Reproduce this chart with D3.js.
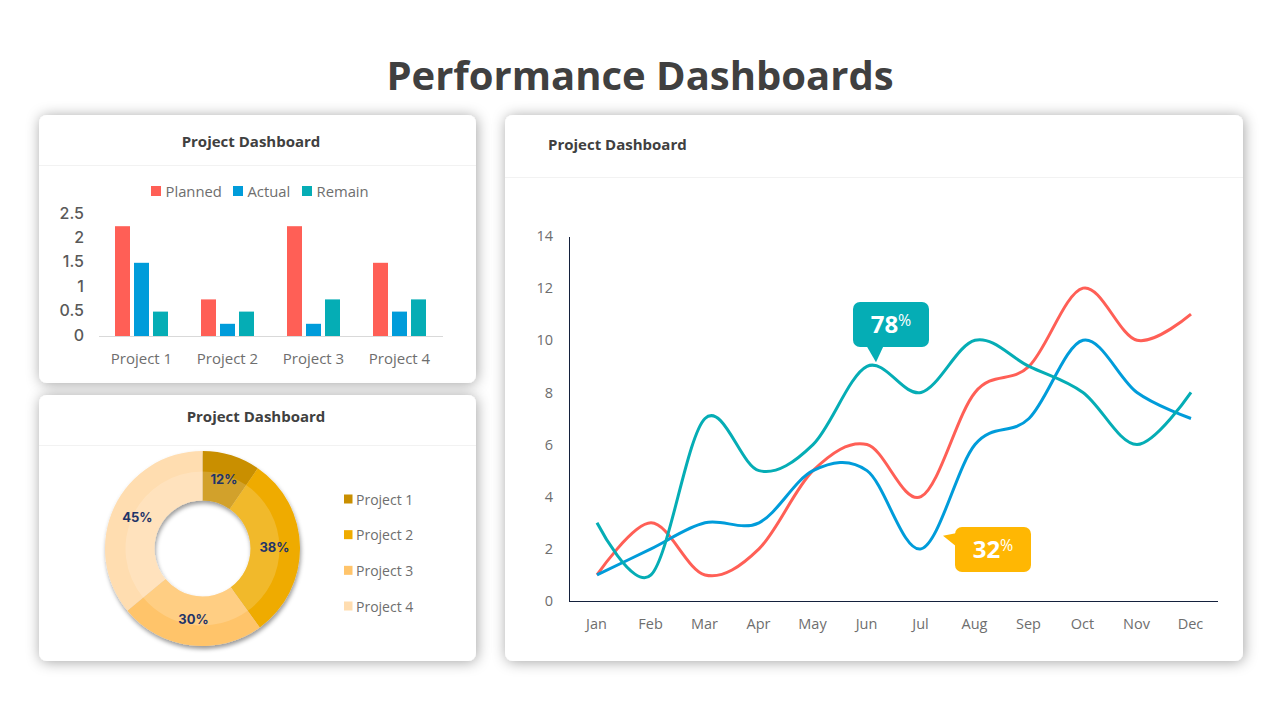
<!DOCTYPE html>
<html>
<head>
<meta charset="utf-8">
<script src="https://cdnjs.cloudflare.com/ajax/libs/d3/7.8.5/d3.min.js"></script>
<style>
  html, body { margin: 0; padding: 0; background: #fff; }
  svg { display: block; font-family: "Open Sans", sans-serif; }
  .axis path, .axis line { shape-rendering: crispEdges; }
</style>
</head>
<body>
<svg id="chart" width="1280" height="720"></svg>
<script>
const titleText = 'Performance Dashboards'
const panelTitle = 'Project Dashboard'

// bar chart
const projects = ['Project 1', 'Project 2', 'Project 3', 'Project 4']
const barSeries = ['Planned', 'Actual', 'Remain']
const planned = [2.25, 0.75, 2.25, 1.5]
const actual = [1.5, 0.25, 0.25, 0.5]
const remain = [0.5, 0.5, 0.75, 0.75]
const barTicks = [0, 0.5, 1, 1.5, 2, 2.5]

// donut
const donutValues = [12, 38, 30, 45]
const donutLabels = ['12%', '38%', '30%', '45%']

// lines
const months = ['Jan', 'Feb', 'Mar', 'Apr', 'May', 'Jun', 'Jul', 'Aug', 'Sep', 'Oct', 'Nov', 'Dec']
const redLine = [1, 3, 1, 2, 5, 6, 4, 8, 9, 12, 10, 11]
const blueLine = [1, 2, 3, 3, 5, 5, 2, 6, 7, 10, 8, 7]
const tealLine = [3, 1, 7, 5, 6, 9, 8, 10, 9, 8, 6, 8]
const lineTicks = [0, 2, 4, 6, 8, 10, 12, 14]

const red = '#ff5f56', blue = '#009cda', teal = '#05adb5', gold = '#ffb703'
const donutColors = ['#c98f00', '#efab00', '#ffc46b', '#ffddb0']
const textGrey = '#6e6e6e'
const axisDark = '#14213d'

const svg = d3.select('#chart')
const defs = svg.append('defs')

let cardShadow = defs.append('filter').attr('id', 'cardShadow')
  .attr('x', '-10%').attr('y', '-10%').attr('width', '120%').attr('height', '120%')
cardShadow.append('feDropShadow').attr('dx', 1).attr('dy', 1)
  .attr('stdDeviation', 7).attr('flood-color', '#000').attr('flood-opacity', 0.36)

let ringShadow = defs.append('filter').attr('id', 'ringShadow')
  .attr('x', '-15%').attr('y', '-15%').attr('width', '130%').attr('height', '130%')
ringShadow.append('feDropShadow').attr('dx', 1).attr('dy', 3)
  .attr('stdDeviation', 2).attr('flood-color', '#000').attr('flood-opacity', 0.4)

svg.append('text').text(titleText)
  .attr('x', 640).attr('y', 90).attr('text-anchor', 'middle')
  .style('font-size', '40px').style('font-weight', 700).style('fill', '#404040')

function card(x, y, w, h, sepY, titleX, titleY, anchor) {
  svg.append('rect').attr('x', x).attr('y', y).attr('width', w).attr('height', h)
    .attr('rx', 8).style('fill', '#fff').attr('filter', 'url(#cardShadow)')
  svg.append('line').attr('x1', x).attr('x2', x + w).attr('y1', sepY).attr('y2', sepY)
    .style('stroke', '#f2f2f2').style('stroke-width', 1)
  svg.append('text').text(panelTitle).attr('x', titleX).attr('y', titleY)
    .attr('text-anchor', anchor)
    .style('font-size', '15px').style('font-weight', 700).style('fill', '#404040')
}

card(39, 115, 437, 268, 165.5, 251, 147, 'middle')
card(39, 395, 437, 266, 445.5, 256, 422, 'middle')
card(505, 115, 738, 546, 177.5, 548, 150, 'start')

// ---- bars
let barColors = [red, blue, teal]
let barValues = [planned, actual, remain]
let x0 = d3.scaleBand().domain(projects).range([98.5, 442.5])
let x1 = d3.scaleBand().domain(barSeries).range([0, 53]).paddingInner(4 / 19)
let yBar = d3.scaleLinear().domain([0, 2.5]).range([336, 214])

let barAxisX = svg.append('g').attr('class', 'axis').attr('transform', 'translate(0,336)')
  .call(d3.axisBottom(x0).tickSize(0).tickPadding(17))
barAxisX.select('path').style('stroke', '#d9d9d9')
barAxisX.selectAll('text').style('font-size', '15px').style('fill', textGrey)
  .style('font-family', '"Open Sans", sans-serif')

let barAxisY = svg.append('g').attr('class', 'axis').attr('transform', 'translate(84,-1)')
  .call(d3.axisLeft(yBar).tickValues(barTicks).tickFormat(d3.format('~g')).tickSize(0).tickPadding(0))
barAxisY.select('path').remove()
barAxisY.selectAll('text').style('font-size', '16px').style('font-weight', 500).style('fill', '#595959')
  .style('font-family', 'Inter, sans-serif')

barSeries.forEach((s, i) => {
  svg.append('g').selectAll('rect')
    .data(barValues[i])
    .enter()
    .append('rect')
    .attr('x', (d, j) => x0(projects[j]) + 43 - 26.5 + x1(s))
    .attr('y', d => yBar(d))
    .attr('width', x1.bandwidth())
    .attr('height', d => yBar(0) - yBar(d))
    .style('fill', barColors[i])
})

let barLegendX = [151, 233, 302]
barSeries.forEach((s, i) => {
  svg.append('rect').attr('x', barLegendX[i]).attr('y', 186).attr('width', 10).attr('height', 10)
    .style('fill', barColors[i])
  svg.append('text').text(s).attr('x', barLegendX[i] + 14.5).attr('y', 197)
    .style('font-size', '14.8px').style('fill', textGrey)
})

// ---- donut
let pie = d3.pie().sort(null)
let arcs = pie(donutValues)
let outerArc = d3.arc().innerRadius(48).outerRadius(97.5)
let innerArc = d3.arc().innerRadius(48).outerRadius(77)
let donut = svg.append('g').attr('transform', 'translate(202.5,548.5)')

donut.append('g').attr('filter', 'url(#ringShadow)')
  .selectAll('path').data(arcs).enter().append('path')
  .attr('d', outerArc).style('fill', (d, i) => donutColors[i])
donut.append('g').selectAll('path').data(arcs).enter().append('path')
  .attr('d', innerArc).style('fill', '#fff').style('fill-opacity', 0.17)

let labelArc = d3.arc().innerRadius(72).outerRadius(72)
donut.append('g').selectAll('text').data(arcs).enter().append('text')
  .text((d, i) => donutLabels[i])
  .attr('transform', d => 'translate(' + labelArc.centroid(d) + ')')
  .attr('text-anchor', 'middle').attr('dy', '0.35em')
  .style('font-family', 'Inter, sans-serif').style('font-size', '13px').style('font-weight', 700)
  .style('fill', '#1f3468')

let donutLegendY = d3.scalePoint().domain(projects).range([499.5, 606.5])
projects.forEach((p, i) => {
  svg.append('rect').attr('x', 344).attr('y', donutLegendY(p) - 5).attr('width', 8.5).attr('height', 9)
    .style('fill', donutColors[i])
  svg.append('text').text(p).attr('x', 356).attr('y', donutLegendY(p) + 5)
    .style('font-size', '14px').style('fill', textGrey)
})

// ---- lines
let xLine = d3.scaleBand().domain(months).range([570, 1218])
let yLine = d3.scaleLinear().domain([0, 14]).range([601, 236])
let mid = m => xLine(m) + xLine.bandwidth() / 2

let lineAxisX = svg.append('g').attr('class', 'axis').attr('transform', 'translate(-0.5,601)')
  .call(d3.axisBottom(xLine).tickSize(0).tickPadding(18))
lineAxisX.select('path').style('stroke', axisDark)
lineAxisX.selectAll('text').style('font-size', '14.5px').style('fill', textGrey)
  .style('font-family', '"Open Sans", sans-serif')

let lineAxisY = svg.append('g').attr('class', 'axis').attr('transform', 'translate(569,0)')
  .call(d3.axisLeft(yLine).tickValues(lineTicks).tickSize(0).tickPadding(16))
lineAxisY.select('path').style('stroke', axisDark)
lineAxisY.selectAll('text').style('font-size', '14.5px').style('fill', textGrey)
  .style('font-family', '"Open Sans", sans-serif')

let lineGen = d3.line()
  .x((d, i) => mid(months[i]))
  .y(d => yLine(d))
  .curve(d3.curveCatmullRom.alpha(0))

;[[redLine, red], [blueLine, blue], [tealLine, teal]].forEach(s => {
  svg.append('path').attr('d', lineGen(s[0]))
    .style('fill', 'none').style('stroke', s[1]).style('stroke-width', 3)
})

// ---- callouts, placed off the data points they mark
function callout(x, y, w, h, color, big, small, pointer) {
  svg.append('path').attr('d', d3.line()(pointer)).style('fill', color)
  svg.append('rect').attr('x', x).attr('y', y).attr('width', w).attr('height', h)
    .attr('rx', 7).style('fill', color)
  let t = svg.append('text').attr('x', x + w / 2).attr('y', y + 31).attr('text-anchor', 'middle')
    .style('fill', '#fff').style('font-weight', 700)
  t.append('tspan').text(big).style('font-size', '24px')
  t.append('tspan').text(small).attr('dy', -7).style('font-size', '16px').style('font-weight', 400)
}

let junX = mid('Jun'), junY = yLine(tealLine[5])
callout(853, 302, 76, 45, teal, '78', '%',
  [[866, 345], [884, 345], [junX + 9, junY - 4]])
let julX = mid('Jul'), julY = yLine(blueLine[6])
callout(955, 527, 76, 45, gold, '32', '%',
  [[957, 533], [957, 547], [julX + 22, julY - 13]])
</script>
</body>
</html>
